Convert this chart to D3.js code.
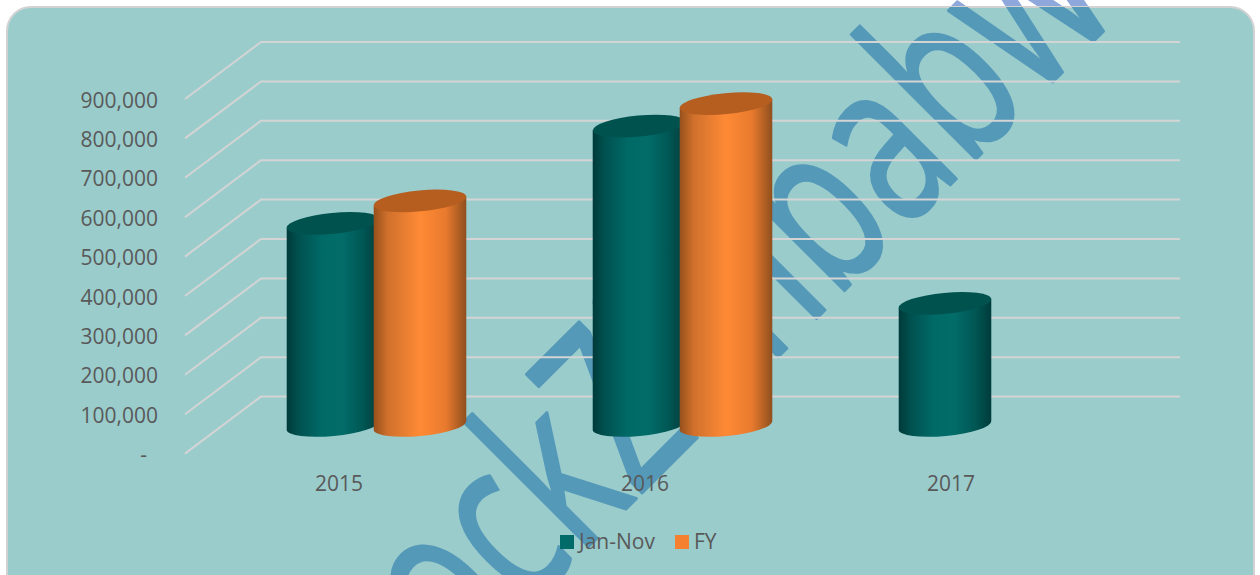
<!DOCTYPE html>
<html><head><meta charset="utf-8">
<script src="https://cdnjs.cloudflare.com/ajax/libs/d3/7.8.5/d3.min.js"></script>
<style>html,body{margin:0;padding:0;background:#fff;overflow:hidden}svg{display:block}
text{font-family:"Open Sans",sans-serif;fill:#595959}</style></head><body>
<script>
const years = ["2015","2016","2017"];
const seriesNames = ["Jan-Nov","FY"];
const janNov = [513000,760000,310000];
const fy = [570000,817000,null];
const yTicks = [0,100000,200000,300000,400000,500000,600000,700000,800000,900000];
const watermark = "StockZimbabwe";
const W=1260,H=575;
const svg=d3.select("body").append("svg").attr("width",W).attr("height",H);
const defs=svg.append("defs");
const panel={x:7,y:7,w:1247,h:590,r:24};
defs.append("clipPath").attr("id","pc").append("rect").attr("x",panel.x).attr("y",panel.y).attr("width",panel.w).attr("height",panel.h).attr("rx",panel.r);
function grad(id,stops){const g=defs.append("linearGradient").attr("id",id);
  stops.forEach(s=>g.append("stop").attr("offset",s[0]).attr("stop-color",s[1]));}
grad("gTeal",[[0,"#003a3a"],[.12,"#00504e"],[.38,"#006a67"],[.6,"#026c69"],[.82,"#005754"],[1,"#003c3c"]]);
grad("gOrange",[[0,"#96501c"],[.15,"#d0702c"],[.5,"#ff8a35"],[.78,"#e87a2e"],[1,"#8f4f1e"]]);
const topFill={"Jan-Nov":"#00524f","FY":"#b55e20"};
const bodyFill={"Jan-Nov":"url(#gTeal)","FY":"url(#gOrange)"};
const legendFill={"Jan-Nov":"#006b68","FY":"#f58030"};

function wm(g,fill){
  g.append("text").text(watermark).attr("text-anchor","start")
   .attr("transform","translate(355,780) rotate(-45) scale(0.686,1)")
   .style("font-family","'Open Sans',sans-serif").style("font-size","232px")
   .style("fill",fill).style("stroke",fill).style("stroke-width",3).style("stroke-linejoin","round");
}
wm(svg.append("g"),"#8fa8dc");
svg.append("rect").attr("x",panel.x).attr("y",panel.y).attr("width",panel.w).attr("height",panel.h).attr("rx",panel.r)
  .attr("fill","#9acccc").attr("stroke","#d2d2d2").attr("stroke-width",2);
wm(svg.append("g").attr("clip-path","url(#pc)"),"#5599b9");

// scales
const yBack=d3.scaleLinear().domain([0,900000]).range([396.6,42]);
const depthDx=-76,depthDy=57;
const yCyl=d3.scaleLinear().domain([0,900000]).range([425.5,70.9]);
const x0=d3.scaleBand().domain(years).range([186,1104]);
const x1=d3.scaleBand().domain(seriesNames).range([-49.5,124.5]);
const rx=46.5,ry=10.5,rot=-5.5;

// grid
const grid=svg.append("g");
yTicks.forEach(t=>{
  const y=yBack(t);
  grid.append("path").attr("d",d3.line()([[261+depthDx,y+depthDy],[261,y],[1180,y]]))
   .attr("fill","none").attr("stroke","#d4d4d4").attr("stroke-width",2);
});
// y labels
svg.append("g").selectAll("text").data(yTicks).join("text")
  .attr("x",d=>d===0?147:158).attr("y",d=>yBack(d)+depthDy+8.5)
  .attr("text-anchor","end").style("font-size","21px")
  .text(d=>d===0?"-":d3.format(",")(d));
// x labels
svg.append("g").selectAll("text").data(years).join("text")
  .attr("x",d=>x0(d)+x0.bandwidth()/2).attr("y",491)
  .attr("text-anchor","middle").style("font-size","21px").text(d=>d);

// cylinders
const rows=[];
years.forEach((yr,i)=>{
  [janNov[i],fy[i]].forEach((v,j)=>{ if(v!=null) rows.push({yr,name:seriesNames[j],v}); });
});
const a=rot*Math.PI/180, ex=rx*Math.cos(a), ey=rx*Math.sin(a);
const cyl=svg.append("g").selectAll("g").data(rows).join("g")
  .attr("transform",d=>`translate(${x0(d.yr)+x0.bandwidth()/2+x1(d.name)+x1.bandwidth()/2},0)`);
cyl.append("path").attr("fill",d=>bodyFill[d.name]).attr("d",d=>{
  const t=yCyl(d.v),b=yCyl(0);
  return `M${-ex},${t-ey} L${-ex},${b-ey} A${rx},${ry} ${rot} 0 0 ${ex},${b+ey} L${ex},${t+ey} Z`;
});
cyl.append("ellipse").attr("rx",rx).attr("ry",ry).attr("fill",d=>topFill[d.name])
  .attr("transform",d=>`translate(0,${yCyl(d.v)}) rotate(${rot})`);

// legend
const lg=svg.append("g");
[[560,579],[675,694]].forEach((p,i)=>{
  lg.append("rect").attr("x",p[0]).attr("y",535).attr("width",14).attr("height",14).attr("fill",legendFill[seriesNames[i]]);
  lg.append("text").attr("x",p[1]).attr("y",549).style("font-size","21px").text(seriesNames[i]);
});
</script></body></html>
